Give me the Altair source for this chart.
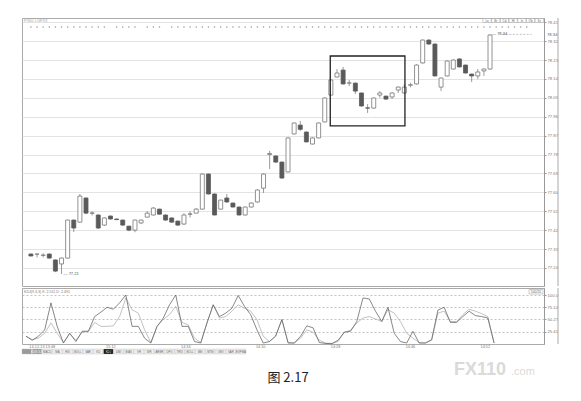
import altair as alt
import pandas as pd

# ---------------- data ----------------
opens = [77.306, 77.306, 77.300, 77.306, 77.278, 77.259, 77.287, 77.468, 77.458, 77.573,
         77.500, 77.492, 77.444, 77.487, 77.473, 77.468, 77.439, 77.420, 77.454, 77.482,
         77.492, 77.520, 77.492, 77.478, 77.463, 77.449, 77.496, 77.501, 77.520, 77.687,
         77.592, 77.520, 77.573, 77.549, 77.530, 77.492, 77.530, 77.554, 77.620, 77.780,
         77.773, 77.744, 77.697, 77.878, 77.920, 77.887, 77.830, 77.859, 77.935, 78.063,
         78.149, 78.182, 78.120, 78.120, 78.073, 78.002, 78.001, 78.063, 78.058, 78.054,
         78.087, 78.073, 78.110, 78.116, 78.216, 78.325, 78.306, 78.101, 78.154, 78.187,
         78.235, 78.206, 78.163, 78.154, 78.178, 78.187]
highs = [77.310, 77.306, 77.310, 77.310, 77.280, 77.290, 77.470, 77.470, 77.592, 77.575,
         77.510, 77.495, 77.480, 77.490, 77.475, 77.470, 77.440, 77.470, 77.470, 77.510,
         77.530, 77.522, 77.495, 77.480, 77.465, 77.500, 77.510, 77.525, 77.690, 77.690,
         77.595, 77.565, 77.592, 77.550, 77.532, 77.532, 77.552, 77.615, 77.690, 77.797,
         77.776, 77.746, 77.862, 77.933, 77.940, 77.890, 77.862, 77.933, 78.052, 78.138,
         78.187, 78.197, 78.135, 78.123, 78.075, 78.020, 78.052, 78.082, 78.060, 78.076,
         78.104, 78.116, 78.122, 78.210, 78.328, 78.328, 78.308, 78.147, 78.228, 78.233,
         78.238, 78.208, 78.165, 78.187, 78.190, 78.352]
lows = [77.295, 77.290, 77.290, 77.285, 77.220, 77.211, 77.285, 77.411, 77.455, 77.496,
        77.490, 77.425, 77.440, 77.470, 77.468, 77.440, 77.415, 77.410, 77.450, 77.480,
        77.490, 77.494, 77.465, 77.455, 77.440, 77.445, 77.480, 77.500, 77.518, 77.590,
        77.490, 77.518, 77.550, 77.528, 77.490, 77.490, 77.528, 77.550, 77.597, 77.711,
        77.740, 77.665, 77.695, 77.876, 77.892, 77.838, 77.828, 77.857, 77.933, 78.060,
        78.147, 78.113, 78.106, 78.068, 78.008, 77.978, 77.998, 78.050, 78.040, 78.044,
        78.073, 78.070, 78.100, 78.113, 78.213, 78.303, 78.152, 78.082, 78.152, 78.185,
        78.195, 78.166, 78.125, 78.140, 78.154, 78.185]
closes = [77.297, 77.306, 77.301, 77.287, 77.225, 77.287, 77.468, 77.430, 77.582, 77.501,
          77.502, 77.430, 77.478, 77.473, 77.470, 77.444, 77.420, 77.468, 77.468, 77.501,
          77.525, 77.496, 77.468, 77.458, 77.444, 77.492, 77.497, 77.520, 77.687, 77.592,
          77.492, 77.563, 77.554, 77.530, 77.492, 77.530, 77.549, 77.611, 77.687, 77.785,
          77.744, 77.668, 77.859, 77.930, 77.900, 77.840, 77.859, 77.930, 78.049, 78.135,
          78.168, 78.116, 78.121, 78.082, 78.011, 78.001, 78.049, 78.073, 78.044, 78.073,
          78.101, 78.101, 78.112, 78.206, 78.325, 78.306, 78.154, 78.144, 78.225, 78.230,
          78.197, 78.168, 78.154, 78.173, 78.187, 78.349]

k_line = [16, 7.5, 16, 29, 84, 36, 2, 22, 5, 26,
          26, 56, 65, 75, 71, 84, 100, 36, 36, 12,
          2, 36, 53, 80, 100, 36, 36, 5, 2, 43,
          80, 56, 63, 73, 99, 77, 60, 29, 2, 5,
          16, 50, 2, 2, 16, 37, 33, 3, 1, 0.7,
          7.5, 24, 26, 46, 94, 92, 67, 46, 75, 22,
          5, 2, 26, 2, 2, 9, 69, 75, 44, 44,
          56, 67, 58, 56, 53, 2]
d_line = [16, 9, 12, 22, 43, 22, 3, 21, 7.5, 24,
          26, 44, 36, 36, 37, 56, 94, 70, 63, 29,
          3, 36, 50, 60, 77, 44, 39, 12, 3, 43,
          80, 53, 56, 67, 80, 73, 67, 50, 16, 5,
          16, 50, 3, 2, 12, 29, 24, 7.5, 2, 1,
          5, 24, 28, 43, 53, 56, 51, 46, 70, 63,
          46, 22, 12, 3, 2, 7.5, 63, 67, 46, 46,
          60, 71, 67, 62, 56, 2]

price_ticks = [77.24, 77.33, 77.42, 77.51, 77.60, 77.69, 77.78, 77.87, 77.96,
               78.05, 78.14, 78.23, 78.32, 78.41]
kd_ticks = [25.41, 50.27, 75.14, 100.0]
time_pos = [2.6, 13.6, 25.6, 37.6, 49.6, 61.6, 73.6]
time_lbl = ["14-12-13 13:48", "15:12", "14:34", "14:10", "14:28", "14:46", "14:52"]
dot_idx = [i for i in range(0, 82) if i not in (13, 18, 22)]
box_x = [48.9, 61.1]
box_y = [77.916, 78.249]
hi_line_x = [77.0, 81.8]
lo_lbl = "77.21"
hi_lbl = "78.34"
last_lbl = "78.34"
header_txt = "FX60  LGFXX"
kd_header = "KDJ(9,3,3)  K: 2.511  D: 2.491"
kd_box = "500/55"
buttons = ["Ln", "Br", "Cd", "Hl", "In", "Ob", "Sv"]
toolbar = ["", "KD(9,3,3)", "MACD", "MA", "RSI", "BOLL", "SAR", "KD", "KDJ", "DMI",
           "BIAS", "VR", "WR", "ARBR", "DPO", "TRIX", "BOLL", "BBI", "MTM", "OBV",
           "SAR", "EXPMA"]
caption = "图 2.17"
wm_main = "FX110"
wm_sub = ".com"

# ---------------- layout ----------------
W, HM, HI = 522, 268, 56
n = len(opens)
idx = list(range(n))
candles = pd.DataFrame({"i": idx, "open": opens, "high": highs, "low": lows, "close": closes})
xs = alt.Scale(domain=[-0.64, 83.0], nice=False, zero=False)
ys = alt.Scale(domain=[77.154, 78.43], nice=False, zero=False)
ys2 = alt.Scale(domain=[0, 114.3], nice=False, zero=False)
XA = alt.X("i:Q", scale=xs, axis=None)
up = alt.datum.close >= alt.datum.open

wick = alt.Chart(candles).mark_rule(color="#808080", strokeWidth=0.8).encode(
    x=XA,
    y=alt.Y("low:Q", scale=ys, title=None,
            axis=alt.Axis(orient="right", values=price_ticks, tickCount=40, format=".2f",
                          labelFontSize=4.2, labelColor="#777", tickSize=2,
                          tickColor="#999", domainColor="#999", grid=True,
                          gridColor="#dcdcdc", gridWidth=0.8, labelPadding=1,
                          labelOverlap=False)),
    y2="high:Q")
body = alt.Chart(candles).mark_bar(size=4, strokeWidth=0.8).encode(
    x=XA, y=alt.Y("open:Q", scale=ys, title=None), y2="close:Q",
    fill=alt.condition(up, alt.value("white"), alt.value("#5a5a5a")),
    stroke=alt.condition(up, alt.value("#777777"), alt.value("#5a5a5a")))

box = alt.Chart(pd.DataFrame({"x": [box_x[0]], "x2": [box_x[1]],
                              "y": [box_y[0]], "y2": [box_y[1]]})).mark_rect(
    fillOpacity=0, stroke="#222", strokeWidth=1.3).encode(
    x=alt.X("x:Q", scale=xs, axis=None), x2="x2:Q",
    y=alt.Y("y:Q", scale=ys, title=None), y2="y2:Q")

lo_text = alt.Chart(pd.DataFrame({"i": [5], "p": [lows[5]], "t": ["— " + lo_lbl]})).mark_text(
    align="left", baseline="middle", dx=2, fontSize=4, color="#555").encode(
    x=XA, y=alt.Y("p:Q", scale=ys, title=None), text="t:N")
hi_text = alt.Chart(pd.DataFrame({"i": [n - 1], "p": [highs[-1]], "t": ["— " + hi_lbl]})).mark_text(
    align="left", baseline="middle", dx=2, fontSize=4, color="#555").encode(
    x=XA, y=alt.Y("p:Q", scale=ys, title=None), text="t:N")
hi_rule = alt.Chart(pd.DataFrame({"i": [hi_line_x[0]], "i2": [hi_line_x[1]], "p": [highs[-1]]})).mark_rule(
    color="#999", strokeWidth=0.6, strokeDash=[2, 1.5]).encode(
    x=XA, x2="i2:Q", y=alt.Y("p:Q", scale=ys, title=None))
last_text = alt.Chart(pd.DataFrame({"p": [closes[-1]], "t": [last_lbl]})).mark_text(
    align="left", baseline="middle", fontSize=4.2, color="#555").encode(
    x=alt.value(W + 3), y=alt.Y("p:Q", scale=ys, title=None), text="t:N")

dots = alt.Chart(pd.DataFrame({"i": dot_idx})).mark_circle(size=2.5, color="#9a9a9a", opacity=1).encode(
    x=XA, y=alt.value(9))

header = alt.Chart(pd.DataFrame({"t": [header_txt]})).mark_text(
    align="left", baseline="middle", fontSize=4, color="#aaa").encode(
    x=alt.value(2), y=alt.value(3), text="t:N")

btn_base = alt.Chart(pd.DataFrame({"t": buttons})).transform_window(
    rn="row_number()").transform_calculate(
    px="461 + (datum.rn - 1) * 8.7", px2="461 + (datum.rn - 1) * 8.7 + 8.2",
    pc="461 + (datum.rn - 1) * 8.7 + 4.1")
btn_rect = btn_base.mark_rect(fill="white", stroke="#999", strokeWidth=0.5).encode(
    x=alt.X("px:Q", scale=None), x2="px2:Q", y=alt.value(0.5), y2=alt.value(4.5))
btn_text = btn_base.mark_text(fontSize=3, color="#666", baseline="middle").encode(
    x=alt.X("pc:Q", scale=None), y=alt.value(2.5), text="t:N")

edge_main = alt.Chart(pd.DataFrame({"a": [0]})).mark_rule(color="#aaa", strokeWidth=1).encode(
    x=alt.value(536), y=alt.value(0), y2=alt.value(HM))

main = alt.layer(wick, body, box, lo_text, hi_rule, hi_text, last_text, dots, header,
                 btn_rect, btn_text, edge_main).properties(width=W, height=HM)

# ---------------- indicator panel ----------------
kd = pd.DataFrame({"i": idx, "k": k_line, "d": d_line})
dl = alt.Chart(kd).mark_line(color="#a8a8a8", strokeWidth=0.7).encode(
    x=XA,
    y=alt.Y("d:Q", scale=ys2, title=None,
            axis=alt.Axis(orient="right", values=kd_ticks, tickCount=20,
                          labelExpr="datum.value >= 100 ? '100.0' : format(datum.value, '.2f')",
                          labelFontSize=4.2, labelColor="#777", tickSize=2, tickColor="#999",
                          domainColor="#999", grid=True, gridColor="#aaaaaa",
                          gridDash=[2, 2], gridWidth=0.7, labelPadding=1,
                          labelOverlap=False)))
kl = alt.Chart(kd).mark_line(color="#555555", strokeWidth=0.7).encode(
    x=XA, y=alt.Y("k:Q", scale=ys2, title=None))

kd_head = alt.Chart(pd.DataFrame({"t": [kd_header]})).mark_text(
    align="left", baseline="middle", fontSize=3.6, color="#777").encode(
    x=alt.value(2), y=alt.value(4), text="t:N")
kdb_rect = alt.Chart(pd.DataFrame({"t": [kd_box]})).mark_rect(
    fill="white", stroke="#999", strokeWidth=0.5).encode(
    x=alt.value(507), x2=alt.value(521), y=alt.value(1.5), y2=alt.value(6))
kdb_text = alt.Chart(pd.DataFrame({"t": [kd_box]})).mark_text(
    fontSize=3.4, color="#666", baseline="middle").encode(
    x=alt.value(514), y=alt.value(3.8), text="t:N")

tlabels = alt.Chart(pd.DataFrame({"i": time_pos, "t": time_lbl})).mark_text(
    baseline="top", fontSize=3.8, color="#777").encode(
    x=XA, y=alt.value(HI + 0.8), text="t:N")

tb_base = alt.Chart(pd.DataFrame({"t": toolbar})).transform_window(
    rn="row_number()").transform_calculate(
    px="(datum.rn - 1) * 10.2", px2="(datum.rn - 1) * 10.2 + 9.6",
    pc="(datum.rn - 1) * 10.2 + 4.8",
    fc="datum.rn == 9 ? '#111111' : (datum.rn <= 2 ? '#9a9a9a' : '#eeeeee')",
    tc="(datum.rn == 9 || datum.rn <= 2) ? '#ffffff' : '#666666'")
tb_rect = tb_base.mark_rect(stroke="#bbb", strokeWidth=0.4).encode(
    x=alt.X("px:Q", scale=None), x2="px2:Q", y=alt.value(HI + 5), y2=alt.value(HI + 10),
    fill=alt.Fill("fc:N", scale=None))
tb_text = tb_base.mark_text(fontSize=2.8, baseline="middle").encode(
    x=alt.X("pc:Q", scale=None), y=alt.value(HI + 7.5), text="t:N",
    color=alt.Color("tc:N", scale=None))

cap = alt.Chart(pd.DataFrame({"t": [caption]})).mark_text(
    fontSize=13, font="Noto Sans CJK SC", color="#222", align="center", baseline="middle").encode(
    x=alt.value(266), y=alt.value(90), text="t:N")
wm1 = alt.Chart(pd.DataFrame({"t": [wm_main]})).mark_text(
    fontSize=18, fontWeight="bold", font="Liberation Sans", color="#dadada",
    align="left", baseline="alphabetic").encode(
    x=alt.value(432), y=alt.value(87), text="t:N")
wm2 = alt.Chart(pd.DataFrame({"t": [wm_sub]})).mark_text(
    fontSize=11, font="Liberation Sans", color="#dadada",
    align="left", baseline="alphabetic").encode(
    x=alt.value(489), y=alt.value(87), text="t:N")

edge_ind = alt.Chart(pd.DataFrame({"a": [0]})).mark_rule(color="#aaa", strokeWidth=1).encode(
    x=alt.value(536), y=alt.value(0), y2=alt.value(HI))

ind = alt.layer(dl, kl, kd_head, kdb_rect, kdb_text, tlabels, tb_rect, tb_text,
                cap, wm1, wm2, edge_ind).properties(width=W, height=HI)

chart = alt.vconcat(main, ind, spacing=0).properties(
    padding={"left": 13, "top": 9, "right": 4, "bottom": 4}
).configure_view(stroke="#aaaaaa", strokeWidth=1)

chart.save("out.html", embed_options={"renderer": "svg", "actions": False})
